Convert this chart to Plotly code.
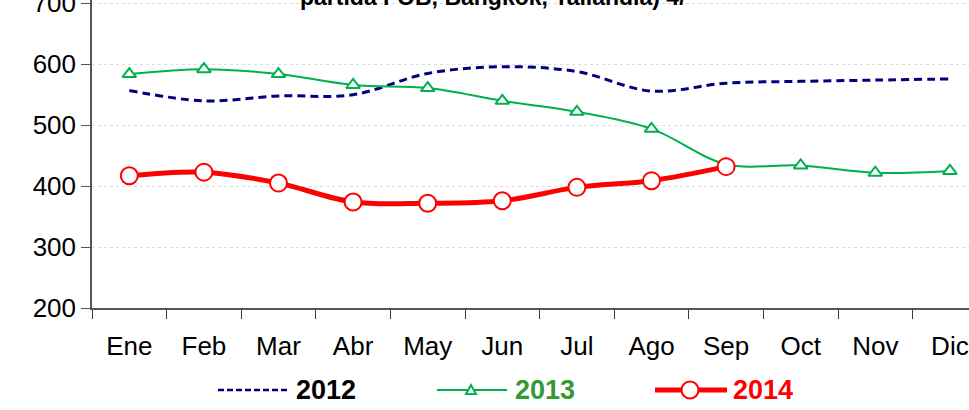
import plotly.graph_objects as go

months = ["Ene", "Feb", "Mar", "Abr", "May", "Jun", "Jul", "Ago", "Sep", "Oct", "Nov", "Dic"]
y2012 = [557, 540, 548, 550, 585, 596, 588, 556, 569, 572, 574, 576]
y2013 = [584, 592, 584, 566, 561, 540, 522, 494, 436, 434, 422, 425]
y2014 = [417, 423, 405, 374, 372, 376, 398, 409, 432]
yticks = [200, 300, 400, 500, 600, 700]
title_text = "partida FOB, Bangkok, Tailandia) 4/"

NAVY = "#000080"
GREEN = "#00b050"
RED = "#ff0000"
FONT = "Liberation Sans, Arial, sans-serif"

W, H = 969, 410
L, T, B, R = 92, 0, 102, 0
PW, PH = W - L - R, H - T - B

def px(x):
    return (x - L) / PW

def py(y):
    return (H - B - y) / PH

fig = go.Figure()
fig.add_trace(go.Scatter(x=months, y=y2012, mode="lines", name="2012",
                         line=dict(color=NAVY, width=3, dash="8px,5px", shape="spline", smoothing=1)))
fig.add_trace(go.Scatter(x=months, y=y2013, mode="lines+markers", name="2013",
                         line=dict(color=GREEN, width=2, shape="spline", smoothing=1),
                         marker=dict(symbol="triangle-up", size=12, color="white",
                                     line=dict(color=GREEN, width=2))))
fig.add_trace(go.Scatter(x=months[:len(y2014)], y=y2014, mode="lines+markers", name="2014",
                         line=dict(color=RED, width=5, shape="spline", smoothing=1),
                         marker=dict(symbol="circle", size=17, color="white",
                                     line=dict(color=RED, width=2))))

shapes = []
annotations = []
# custom legend
ly = 390
# 2012
shapes.append(dict(type="line", xref="paper", yref="paper", x0=px(218), x1=px(288), y0=py(ly), y1=py(ly),
                   line=dict(color=NAVY, width=2.5, dash="6px,3px")))
annotations.append(dict(text="<b>2012</b>", xref="paper", yref="paper", x=px(294), y=py(ly),
                        xanchor="left", yanchor="middle", showarrow=False,
                        font=dict(family=FONT, size=27, color="black")))
# 2013
shapes.append(dict(type="line", xref="paper", yref="paper", x0=px(437), x1=px(507), y0=py(ly), y1=py(ly),
                   line=dict(color=GREEN, width=2)))
tx, ty = 471, ly
tri = f"M {px(tx-5)} {py(ty+4)} L {px(tx+5)} {py(ty+4)} L {px(tx)} {py(ty-5)} Z"
shapes.append(dict(type="path", xref="paper", yref="paper", path=tri,
                   fillcolor="white", line=dict(color=GREEN, width=2)))
annotations.append(dict(text="<b>2013</b>", xref="paper", yref="paper", x=px(513), y=py(ly),
                        xanchor="left", yanchor="middle", showarrow=False,
                        font=dict(family=FONT, size=27, color="#339933")))
# 2014
shapes.append(dict(type="line", xref="paper", yref="paper", x0=px(655), x1=px(727), y0=py(ly), y1=py(ly),
                   line=dict(color=RED, width=5)))
cx, cy, r = 690, ly, 8.5
shapes.append(dict(type="circle", xref="paper", yref="paper", x0=px(cx-r), x1=px(cx+r), y0=py(cy+r), y1=py(cy-r),
                   fillcolor="white", line=dict(color=RED, width=2)))
annotations.append(dict(text="<b>2014</b>", xref="paper", yref="paper", x=px(731), y=py(ly),
                        xanchor="left", yanchor="middle", showarrow=False,
                        font=dict(family=FONT, size=27, color=RED)))
# partially visible title
annotations.append(dict(text="<b>" + title_text + "</b>", xref="paper", yref="paper", x=px(493), y=py(12),
                        xanchor="center", yanchor="bottom", showarrow=False,
                        font=dict(family=FONT, size=23, color="black")))

fig.update_layout(
    width=W, height=H,
    margin=dict(l=L, r=R, t=T, b=B, pad=0, autoexpand=False),
    paper_bgcolor="white", plot_bgcolor="white",
    showlegend=False,
    shapes=shapes, annotations=annotations,
    xaxis=dict(type="category", categoryorder="array", categoryarray=months, automargin=False,
               range=[-0.5, 11.256], tickson="boundaries", ticks="outside", ticklen=9,
               ticklabelstandoff=14,
               tickcolor="#404040", tickwidth=1.3, showgrid=False, showline=True,
               linecolor="#555555", linewidth=1.5, zeroline=False,
               tickfont=dict(family=FONT, size=26, color="black")),
    yaxis=dict(range=[200, 705.5], tickvals=yticks, ticks="outside", ticklen=9, automargin=False,
               ticklabeloverflow="allow",
               tickcolor="#555555", tickwidth=1.3, showline=True, linecolor="#555555", linewidth=1.5,
               showgrid=True, gridcolor="#dddddd", griddash="dot", gridwidth=1, zeroline=False,
               tickfont=dict(family=FONT, size=26, color="black")),
)

fig.write_html("out.html", config={"displayModeBar": False},
               post_script="document.body.style.margin='0';document.body.style.padding='0';document.body.style.overflow='hidden';")
